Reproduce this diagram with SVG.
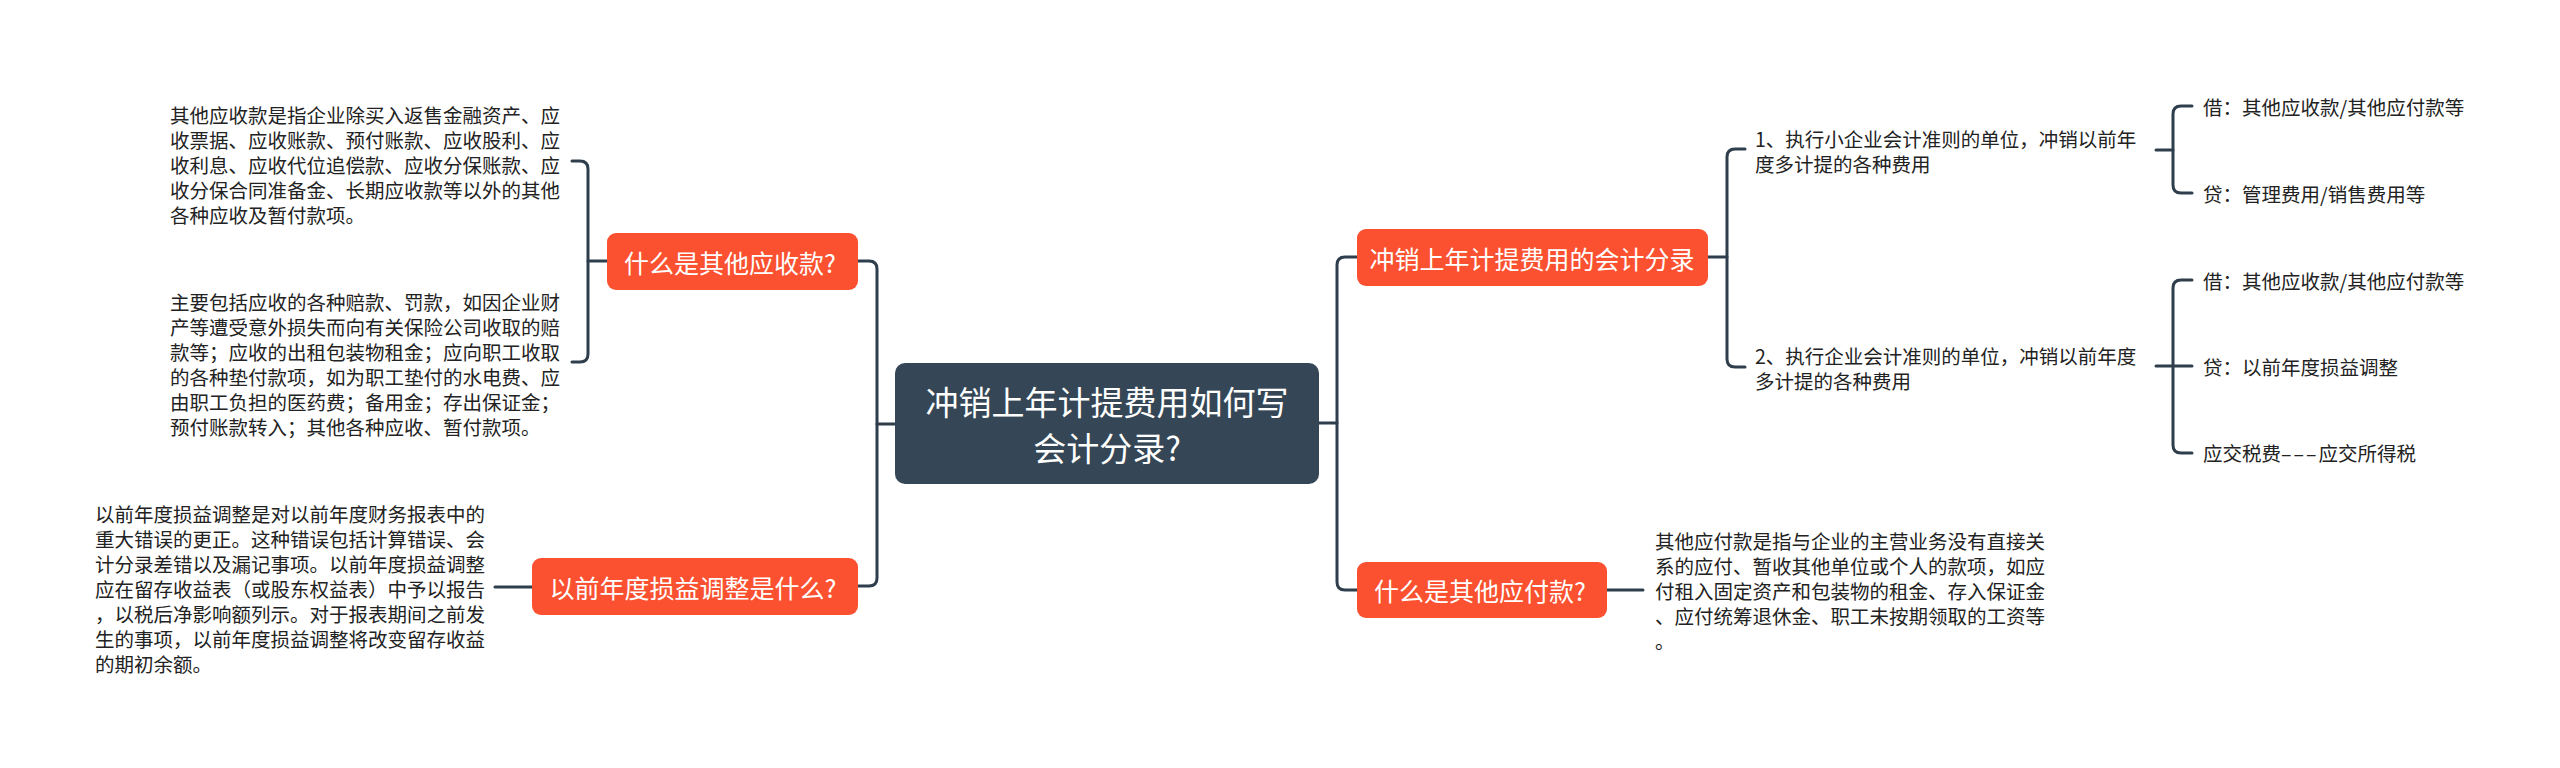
<svg xmlns="http://www.w3.org/2000/svg" width="2560" height="768" viewBox="0 0 2560 768">
<style>
.bg{fill:#ffffff}
.root{fill:#354756}
.main{fill:#fb5130}
.rt{fill:#ffffff;font-family:"Noto Sans CJK SC","Noto Sans",sans-serif;font-size:33px;text-anchor:middle;dominant-baseline:central}
.mt{fill:#ffffff;font-family:"Noto Sans CJK SC","Noto Sans",sans-serif;font-size:25px;text-anchor:middle;dominant-baseline:central}
.tx{fill:#222222;font-family:"Noto Sans CJK SC","Noto Sans",sans-serif;font-size:19.5px;dominant-baseline:central}
.ln{fill:none;stroke:#2f3e4d;stroke-width:3;stroke-linecap:round;stroke-linejoin:round}
</style>
<rect class="bg" x="0" y="0" width="2560" height="768"/>
<g id="connectors">
<path class="ln" d="M895,424 H877"/>
<path class="ln" d="M858,261 H869 Q877,261 877,269 V578 Q877,586 869,586 H858"/>
<path class="ln" d="M607,261 H588"/>
<path class="ln" d="M572,161 H580 Q588,161 588,169 V354 Q588,362 580,362 H572"/>
<path class="ln" d="M532,587 H495"/>
<path class="ln" d="M1319,423 H1337"/>
<path class="ln" d="M1357,257 H1345 Q1337,257 1337,265 V582 Q1337,590 1345,590 H1357"/>
<path class="ln" d="M1607,590 H1643"/>
<path class="ln" d="M1708,257 H1727"/>
<path class="ln" d="M1745,149 H1735 Q1727,149 1727,157 V359 Q1727,367 1735,367 H1745"/>
<path class="ln" d="M2156,150 H2173"/>
<path class="ln" d="M2192,106 H2181 Q2173,106 2173,114 V185 Q2173,193 2181,193 H2192"/>
<path class="ln" d="M2156,366 H2192"/>
<path class="ln" d="M2192,280 H2181 Q2173,280 2173,288 V445 Q2173,453 2181,453 H2192"/>
</g>
<g id="root">
<rect class="root" x="895" y="363" width="424" height="121" rx="10"/>
<text class="rt" x="1107" y="401">冲销上年计提费用如何写</text>
<text class="rt" x="1107" y="447">会计分录?</text>
</g>
<g id="n-qita-yingshou">
<rect class="main" x="607" y="233" width="251" height="57" rx="9"/>
<text class="mt" x="730" y="262">什么是其他应收款?</text>
</g>
<g id="n-qita-yingshou-def">
<text class="tx" x="170" y="114">其他应收款是指企业除买入返售金融资产、应</text>
<text class="tx" x="170" y="139">收票据、应收账款、预付账款、应收股利、应</text>
<text class="tx" x="170" y="164">收利息、应收代位追偿款、应收分保账款、应</text>
<text class="tx" x="170" y="189">收分保合同准备金、长期应收款等以外的其他</text>
<text class="tx" x="170" y="214">各种应收及暂付款项。</text>
</g>
<g id="n-qita-yingshou-incl">
<text class="tx" x="170" y="301.5">主要包括应收的各种赔款、罚款，如因企业财</text>
<text class="tx" x="170" y="326.5">产等遭受意外损失而向有关保险公司收取的赔</text>
<text class="tx" x="170" y="351.5">款等；应收的出租包装物租金；应向职工收取</text>
<text class="tx" x="170" y="376.5">的各种垫付款项，如为职工垫付的水电费、应</text>
<text class="tx" x="170" y="401.5">由职工负担的医药费；备用金；存出保证金；</text>
<text class="tx" x="170" y="426.5">预付账款转入；其他各种应收、暂付款项。</text>
</g>
<g id="n-sunyi">
<rect class="main" x="532" y="558" width="326" height="57" rx="9"/>
<text class="mt" x="693" y="587">以前年度损益调整是什么?</text>
</g>
<g id="n-sunyi-def">
<text class="tx" x="95" y="513">以前年度损益调整是对以前年度财务报表中的</text>
<text class="tx" x="95" y="538">重大错误的更正。这种错误包括计算错误、会</text>
<text class="tx" x="95" y="563">计分录差错以及漏记事项。以前年度损益调整</text>
<text class="tx" x="95" y="588">应在留存收益表（或股东权益表）中予以报告</text>
<text class="tx" x="95" y="613">，以税后净影响额列示。对于报表期间之前发</text>
<text class="tx" x="95" y="638">生的事项，以前年度损益调整将改变留存收益</text>
<text class="tx" x="95" y="663">的期初余额。</text>
</g>
<g id="n-fenlu">
<rect class="main" x="1357" y="229" width="351" height="57" rx="9"/>
<text class="mt" x="1532" y="258">冲销上年计提费用的会计分录</text>
</g>
<g id="n-fenlu-1">
<text class="tx" x="1755" y="138">1、执行小企业会计准则的单位，冲销以前年</text>
<text class="tx" x="1755" y="163">度多计提的各种费用</text>
</g>
<g id="n-fenlu-1a"><text class="tx" x="2203" y="106">借：其他应收款/其他应付款等</text></g>
<g id="n-fenlu-1b"><text class="tx" x="2203" y="193">贷：管理费用/销售费用等</text></g>
<g id="n-fenlu-2">
<text class="tx" x="1755" y="355">2、执行企业会计准则的单位，冲销以前年度</text>
<text class="tx" x="1755" y="380">多计提的各种费用</text>
</g>
<g id="n-fenlu-2a"><text class="tx" x="2203" y="280">借：其他应收款/其他应付款等</text></g>
<g id="n-fenlu-2b"><text class="tx" x="2203" y="366">贷：以前年度损益调整</text></g>
<g id="n-fenlu-2c"><text class="tx" x="2203" y="452">应交税费<tspan letter-spacing="2">–––</tspan>应交所得税</text></g>
<g id="n-qita-yingfu">
<rect class="main" x="1357" y="562" width="250" height="56" rx="9"/>
<text class="mt" x="1480" y="590">什么是其他应付款?</text>
</g>
<g id="n-qita-yingfu-def">
<text class="tx" x="1655" y="540.5">其他应付款是指与企业的主营业务没有直接关</text>
<text class="tx" x="1655" y="565.5">系的应付、暂收其他单位或个人的款项，如应</text>
<text class="tx" x="1655" y="590.5">付租入固定资产和包装物的租金、存入保证金</text>
<text class="tx" x="1655" y="615.5">、应付统筹退休金、职工未按期领取的工资等</text>
<text class="tx" x="1655" y="640.5">。</text>
</g>
</svg>
